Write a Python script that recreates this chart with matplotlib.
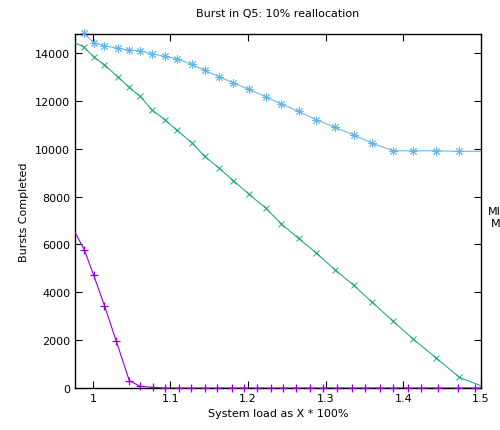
import numpy as np
import matplotlib.pyplot as plt

# load values shared by the two upper series
x_load = [0.974, 0.988, 1.002, 1.015, 1.032, 1.046, 1.061, 1.076, 1.093, 1.108,
          1.128, 1.144, 1.163, 1.181, 1.201, 1.223, 1.243, 1.265, 1.288, 1.312,
          1.336, 1.360, 1.387, 1.413, 1.442, 1.472, 1.505]
cyan_y = [14950, 14830, 14418, 14305, 14209, 14125, 14096, 13971, 13862, 13762,
          13528, 13277, 13010, 12759, 12483, 12174, 11869, 11564, 11212, 10895,
          10586, 10226, 9917, 9917, 9917, 9892, 9900]
green_y = [14480, 14263, 13820, 13511, 13010, 12592, 12190, 11630, 11212, 10782,
           10239, 9683, 9181, 8666, 8107, 7510, 6854, 6256, 5642, 4944,
           4292, 3581, 2787, 2035, 1266, 447, 30]

x_purple = [0.974, 0.989, 1.001, 1.015, 1.030, 1.047, 1.061, 1.077, 1.093, 1.111,
            1.127, 1.144, 1.160, 1.179, 1.195, 1.211, 1.229, 1.245, 1.262, 1.280,
            1.297, 1.314, 1.334, 1.351, 1.370, 1.387, 1.406, 1.423, 1.445, 1.471,
            1.492, 1.51]
purple_y = [6690, 5780, 4722, 3439, 1977, 305, 71, 29, 0, 0,
            0, 0, 0, 0, 0, 0, 0, 0, 0, 0,
            0, 0, 0, 0, 0, 0, 0, 0, 0, 0,
            0, 0]

xticks = [1, 1.1, 1.2, 1.3, 1.4, 1.5]
xtick_labels = ['1', '1.1', '1.2', '1.3', '1.4', '1.5']
yticks = [0, 2000, 4000, 6000, 8000, 10000, 12000, 14000]

XMIN, XMAX, YMAX = 0.977, 1.5, 14800

fig = plt.figure(figsize=(5, 4.31), dpi=100)
ax = fig.add_axes([0.15, 0.0974, 0.812, 0.8214])


def series(x, y, color, marker, ms, mew, alpha):
    x = np.array(x)
    y = np.array(y)
    # line clipped to the frame, markers drawn on top of it like gnuplot
    ax.plot(x, y, color=color, lw=0.8, alpha=alpha, zorder=3)
    inside = (x >= XMIN) & (x <= XMAX) & (y <= YMAX + 100)
    ax.plot(x[inside], y[inside], ls='none', color=color, marker=marker,
            ms=ms, mew=mew, alpha=alpha, clip_on=False, zorder=4)


series(x_purple, purple_y, '#9400d3', '+', 6, 0.9, 1.0)
series(x_load, green_y, '#009e73', 'x', 5, 0.7, 0.85)
series(x_load, cyan_y, '#56b4e9', (8, 2, 0), 6, 0.7, 0.9)

ax.set_xlim(XMIN, XMAX)
ax.set_ylim(0, YMAX)
ax.set_xticks(xticks)
ax.set_xticklabels(xtick_labels)
ax.set_yticks(yticks)
ax.tick_params(direction='in', top=True, right=True, labelsize=8, length=5, width=0.8)
for s in ax.spines.values():
    s.set_linewidth(1.0)
    s.set_zorder(2)

ax.set_title('Burst in Q5: 10% reallocation', fontsize=8, pad=13)
ax.set_xlabel('System load as X * 100%', fontsize=8)
ax.set_ylabel('Bursts Completed', fontsize=8)

# key sits outside the plot and is cut off by the figure edge
fig.text(0.976, 1 - 212 / 431, 'MI', fontsize=8, va='center')
fig.text(0.982, 1 - 224 / 431, 'M', fontsize=8, va='center')

fig.savefig('out.png', dpi=100)
